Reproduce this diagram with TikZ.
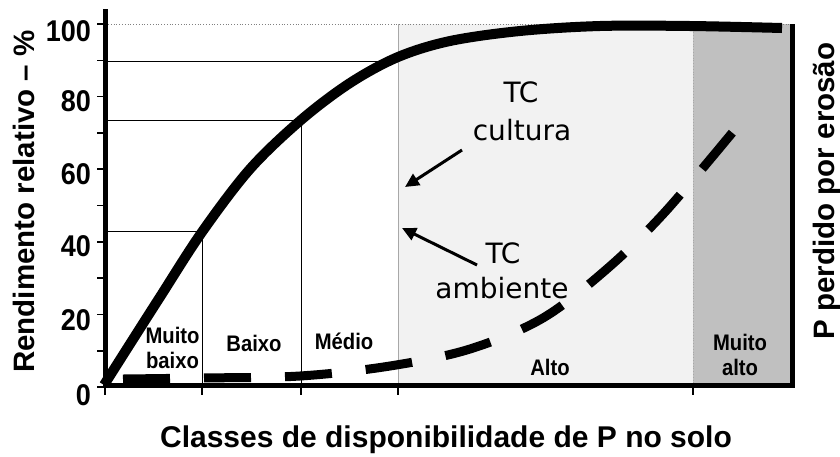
\documentclass[tikz,border=0pt]{standalone}
\usepackage{fontspec}
\setmainfont{Liberation Sans}
\newfontfamily\narrowfont{Liberation Sans}[FakeStretch=0.9]
\newfontfamily\tcfont{DejaVu Sans}
\usetikzlibrary{arrows.meta}
\definecolor{lightregion}{HTML}{F2F2F2}
\definecolor{darkregion}{HTML}{C0C0C0}
\definecolor{edgegray}{HTML}{A8A8A8}
\tikzset{
  axisline/.style={line width=5pt},
  tickline/.style={line width=1.6pt},
  refline/.style={line width=1pt},
  ticklab/.style={font=\narrowfont\bfseries\fontsize{30}{32}\selectfont, anchor=east, inner sep=0pt},
  classlab/.style={font=\narrowfont\bfseries\fontsize{22.5}{25}\selectfont, align=center, inner sep=0pt},
  titlelab/.style={font=\bfseries\fontsize{29.5}{32}\selectfont, inner sep=0pt},
  tclab/.style={font=\tcfont\fontsize{28}{30}\selectfont, inner sep=0pt, anchor=base},
  pointer/.style={line width=3pt, -{Triangle[length=14pt,width=13pt]}},
  yieldcurve/.style={line width=10pt},
  losscurve/.style={line width=9pt, dash pattern=on 47pt off 34pt}
}
\begin{document}
\begin{tikzpicture}[x=1pt,y=-1pt]
\useasboundingbox (0,0) rectangle (840,456);
% class regions
\fill[lightregion] (398,24) rectangle (693,385);
\fill[darkregion] (693,24) rectangle (790,385);
\draw[edgegray, line width=0.8pt] (398,24) -- (398,385);
\draw[edgegray, line width=0.8pt, dotted] (693,24) -- (693,385);
% 100% dotted line
\draw[gray, line width=0.8pt, dotted] (108,24) -- (790,24);
% reference lines
\draw[refline] (108,61) -- (398,61);
\draw[refline] (108,120) -- (301,120) -- (301,385);
\draw[refline] (108,231) -- (202,231) -- (202,385);
% yield curve
\draw[yieldcurve] plot[smooth, tension=0.55] coordinates {(104,385) (130,344) (160,297) (202,232) (250,169) (301,120) (350,83) (398,57) (450,41) (520,31) (600,26) (690,26) (782,28)};
% P loss curve
\draw[losscurve] plot[smooth, tension=0.55] coordinates {(123,379) (200,378) (300,376) (390,366) (470,349) (543,318) (608,268) (665,212) (737,127)};
% axes
\draw[axisline] (105.5,9) -- (105.5,387.5);
\draw[axisline] (103,385) -- (795,385);
\draw[axisline] (792,24) -- (792,387.5);
% y ticks
\foreach \v in {0,10,...,100} \draw[tickline] (105,{387-3.63*\v}) -- (97,{387-3.63*\v});
% x ticks
\foreach \xx in {105,202,301,398,693} \draw[tickline] (\xx,385) -- (\xx,395);
% tick labels
\node[ticklab] (y100) at (91,31) {100};
\node[ticklab] (y80) at (91,101) {80};
\node[ticklab] (y60) at (91,174) {60};
\node[ticklab] (y40) at (91,246) {40};
\node[ticklab] (y20) at (91,320) {20};
\node[ticklab] (y0) at (91,395) {0};
% class labels
\node[classlab] (c1) at (172.5,347.5) {Muito\\baixo};
\node[classlab, anchor=base] (c2) at (254,351) {Baixo};
\node[classlab, anchor=base] (c3) at (344,349) {Médio};
\node[classlab, anchor=base] (c4) at (550,375) {Alto};
\node[classlab] (c5) at (740,354.5) {Muito\\alto};
% axis titles
\node[titlelab, rotate=90, anchor=base] (ytitle) at (34,201.5) {Rendimento relativo – \%};
\node[titlelab, rotate=90, anchor=base] (rtitle) at (834,191) {P perdido por erosão};
\node[titlelab, anchor=base, font=\bfseries\fontsize{30}{32}\selectfont] (xtitle) at (446,447) {Classes de disponibilidade de P no solo};
% TC labels
\node[tclab] (tca) at (521,102) {TC};
\node[tclab] (tcb) at (522,140) {cultura};
\node[tclab] (tcc) at (503,263) {TC};
\node[tclab] (tcd) at (502,298) {ambiente};
\coordinate (p1s) at (462,150);
\coordinate (p1e) at (405,187);
\coordinate (p2s) at (477,265);
\coordinate (p2e) at (402,228);
\draw[pointer] (p1s) -- (p1e);
\draw[pointer] (p2s) -- (p2e);
\end{tikzpicture}
\end{document}
